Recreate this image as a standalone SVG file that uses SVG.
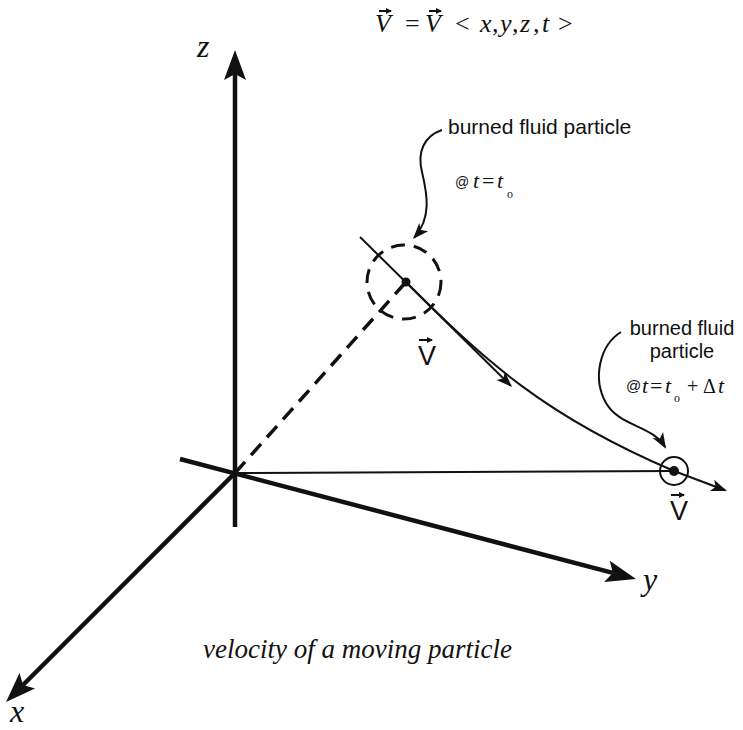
<svg xmlns="http://www.w3.org/2000/svg" width="743" height="730" viewBox="0 0 743 730">
<style>
.sans{font-family:"Liberation Sans",Arial,Helvetica,sans-serif;fill:#111}
.ital{font-family:"Liberation Serif","Times New Roman",serif;font-style:italic;fill:#111}
.serif{font-family:"Liberation Serif","Times New Roman",serif;fill:#111}
.axis{stroke:#111;stroke-width:4.5;fill:none}
.thin{stroke:#111;stroke-width:2;fill:none}
.dash{stroke:#111;stroke-width:3.5;fill:none;stroke-dasharray:15 9}
</style>
<defs>
<marker id="bigHead" markerUnits="userSpaceOnUse" markerWidth="32" markerHeight="24" refX="6" refY="11" orient="auto" overflow="visible">
<path d="M0,0 L30,11 L0,22 L6,11 Z" fill="#111"/>
</marker>
<marker id="smallHead" markerUnits="userSpaceOnUse" markerWidth="18" markerHeight="14" refX="14" refY="6" orient="auto" overflow="visible">
<path d="M0,0 L16,6 L0,12 L4,6 Z" fill="#111"/>
</marker>
<marker id="vecHead" markerUnits="userSpaceOnUse" markerWidth="8" markerHeight="8" refX="5" refY="3" orient="auto" overflow="visible">
<path d="M0,0 L6,3 L0,6 Z" fill="#111"/>
</marker>
</defs>
<rect width="743" height="730" fill="#fff"/>

<g id="formula">
<text class="ital" font-size="26" y="32"><tspan x="375">V</tspan><tspan class="serif" font-style="normal" x="405">=</tspan><tspan x="425">V</tspan><tspan class="serif" font-style="normal" x="455">&lt;</tspan><tspan x="480">x</tspan><tspan x="492">,</tspan><tspan x="500">y</tspan><tspan x="512">,</tspan><tspan x="520">z</tspan><tspan x="533">,</tspan><tspan x="542">t</tspan><tspan class="serif" font-style="normal" x="558">&gt;</tspan></text>
<line class="thin" stroke-width="1.6" x1="379" y1="11" x2="391" y2="11" marker-end="url(#vecHead)"/>
<line class="thin" stroke-width="1.6" x1="429" y1="11" x2="441" y2="11" marker-end="url(#vecHead)"/>
</g>

<g id="connectors">
<line id="z-axis" class="axis" x1="235" y1="527" x2="235" y2="74" marker-end="url(#bigHead)"/>
<line id="y-axis" class="axis" x1="180" y1="459" x2="612.8" y2="572.9" marker-end="url(#bigHead)"/>
<line id="x-axis" class="axis" x1="235" y1="473" x2="23" y2="685" marker-end="url(#bigHead)"/>
<line id="ground-line" class="thin" x1="235" y1="473" x2="674" y2="471"/>
<line id="position-dash" class="dash" x1="235" y1="473" x2="406" y2="282"/>
<line id="velocity-1" class="thin" x1="360" y1="237" x2="510.6" y2="385.6" marker-end="url(#smallHead)"/>
<path id="path-curve" class="thin" d="M406,282 C486,362 545,416 674,471"/>
<line id="velocity-2" class="thin" x1="674" y1="471" x2="725.1" y2="490.3" marker-end="url(#smallHead)"/>
<path id="pointer-1" class="thin" d="M442,130 C424,136 417,152 422,172 C427,193 432,218 414.3,237.5" marker-end="url(#smallHead)"/>
<path id="pointer-2" class="thin" d="M621,332 C600,345 592,378 606,403 C620,427 652,425 665,447" marker-end="url(#smallHead)"/>
</g>

<g id="axis-labels">
<text class="ital" font-size="32" x="197" y="57">z</text>
<text class="ital" font-size="32" x="643" y="590">y</text>
<text class="ital" font-size="32" x="10" y="722">x</text>
</g>

<g id="particle1">
<circle cx="404" cy="282" r="37" fill="none" stroke="#111" stroke-width="3" stroke-dasharray="14 9"/>
<circle cx="406" cy="282" r="4.5" fill="#111"/>
<text class="sans" font-size="27" x="418" y="365">V</text>
<line class="thin" stroke-width="1.8" x1="419" y1="340" x2="432" y2="340" marker-end="url(#vecHead)"/>
</g>

<g id="particle2">
<circle cx="674" cy="471" r="14" fill="none" stroke="#111" stroke-width="2"/>
<circle cx="674" cy="471" r="5" fill="#111"/>
<text class="sans" font-size="27" x="670" y="520">V</text>
<line class="thin" stroke-width="1.8" x1="671" y1="495" x2="684" y2="495" marker-end="url(#vecHead)"/>
</g>

<g id="label1">
<text class="sans" font-size="21" x="448" y="134">burned fluid particle</text>
<text class="sans" font-size="14" x="455" y="187">@</text>
<text class="ital" font-size="22" y="188"><tspan x="473">t</tspan><tspan class="serif" font-style="normal" x="482">=</tspan><tspan x="497">t</tspan></text>
<text class="serif" font-size="12" x="507" y="198">o</text>
</g>

<g id="label2">
<text class="sans" font-size="20" x="682" y="335" text-anchor="middle">burned fluid</text>
<text class="sans" font-size="20" x="682" y="358" text-anchor="middle">particle</text>
<text class="sans" font-size="15" x="626" y="391">@</text>
<text class="ital" font-size="22" y="393"><tspan x="642">t</tspan><tspan class="serif" font-style="normal" x="650">=</tspan><tspan x="665">t</tspan></text>
<text class="serif" font-size="12" x="674" y="402">o</text>
<text class="serif" font-size="20" x="687" y="393">+</text>
<text class="serif" font-size="20" x="703" y="393">Δ</text>
<text class="ital" font-size="22" x="718" y="393">t</text>
</g>

<g id="caption">
<text class="ital" font-size="27" x="203" y="658">velocity of a moving particle</text>
</g>
</svg>
